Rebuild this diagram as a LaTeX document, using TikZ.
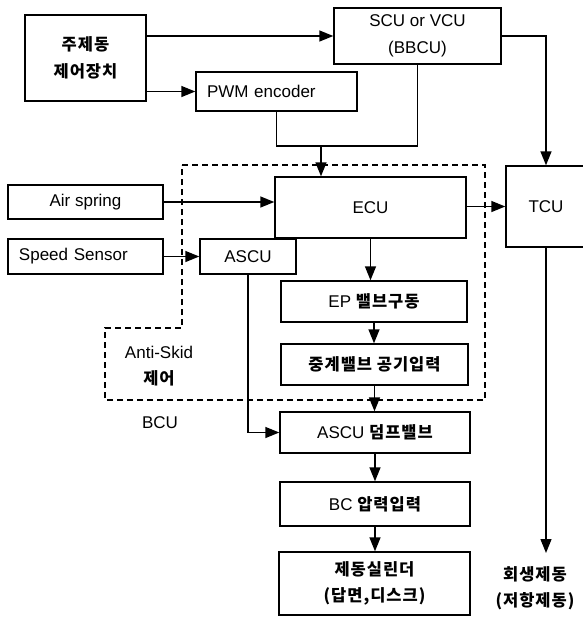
\documentclass[tikz,border=0pt]{standalone}
\usepackage{fontspec}
\setmainfont{Liberation Sans}
\newfontfamily\kr[LetterSpace=6]{Noto Sans CJK KR}
\newcommand{\hg}[1]{{\kr\bfseries\fontsize{16.5}{27}\selectfont #1}}
\usetikzlibrary{arrows.meta,calc}

\begin{document}
\begin{tikzpicture}[x=1pt,y=-1pt,
  box/.style={draw,line width=1.4pt,inner sep=0pt,align=center,font=\fontsize{17}{27}\selectfont},
  lbox/.style={box,align=left,inner xsep=11pt},
  lbl/.style={align=center,inner sep=0pt,font=\fontsize{17}{26}\selectfont},
  lin/.style={line width=1.4pt},
  arr/.style={lin,-{Triangle[length=14pt,width=11pt]}},
  area/.style={line width=1.4pt,dash pattern=on 6pt off 4pt}]
\useasboundingbox (0,0) rectangle (583,619);

\node[box,minimum width=121,minimum height=86] (main) at (85.5,58) {\hg{주제동}\\\hg{제어장치}};
\node[lbox,text width=139,minimum height=39] (pwm) at (276.5,91.5) {PWM encoder};
\node[box,minimum width=167,minimum height=56] (scu) at (417.5,36) {SCU or VCU\\(BBCU)};
\node[box,minimum width=155,minimum height=34] (air) at (85.5,202) {Air spring};
\node[lbox,text width=133,minimum height=35] (speed) at (85.5,256.5) {Speed Sensor};
\node[box,minimum width=96,minimum height=35] (ascu) at (248,256.5) {ASCU};
\node[box,minimum width=191,minimum height=61] (ecu) at (370.5,207.5) {ECU};
\node[box,minimum width=80,minimum height=81] (tcu) at (546,206.5) {TCU};
\node[box,minimum width=186,minimum height=41] (ep) at (374,301.5) {EP \hg{밸브구동}};
\node[box,minimum width=187,minimum height=41] (relay) at (374.5,364.5) {\hg{중계밸브 공기입력}};
\node[box,minimum width=190,minimum height=41] (dump) at (375,432.5) {ASCU \hg{덤프밸브}};
\node[box,minimum width=190,minimum height=44] (bc) at (375,504) {BC \hg{압력입력}};
\node[box,minimum width=191,minimum height=63,font=\fontsize{17}{26}\selectfont] (cyl) at (374.5,583.5) {\hg{제동실린더}\\\hg{(답면,디스크)}};
\node[lbl] (regen) at (535,588.5) {\hg{회생제동}\\\hg{(저항제동)}};
\node[lbl] (antiskid) at (159,366) {Anti-Skid\\\hg{제어}};
\node[lbl] (bcu) at (160,423) {BCU};
\coordinate (j) at (321,146);

\draw[area] (182,165) -- (485,165) -- (485,400) -- (105,400) -- (105,328) -- (182,328) -- cycle;

\draw[arr] (main.east |- scu.west) -- (scu.west);
\draw[arr] (main.east |- pwm.west) -- (pwm.west);
\draw[lin] (scu.south) |- (j);
\draw[lin] (pwm.south) |- (j);
\draw[arr] (j) -- (j |- ecu.north);
\draw[arr] (scu.east) -| (tcu.north);
\draw[arr] (air.east) -- (air.east -| ecu.west);
\draw[arr] (speed.east) -- (ascu.west);
\draw[arr] (ecu.east |- tcu.west) -- (tcu.west);
\draw[arr] (ecu.south) -- (ecu.south |- ep.north);
\draw[arr] (ep.south) -- (ep.south |- relay.north);
\draw[arr] (relay.south) -- (relay.south |- dump.north);
\draw[arr] (ascu.south) |- (dump.west);
\draw[arr] (dump.south) -- (dump.south |- bc.north);
\draw[arr] (bc.south) -- (bc.south |- cyl.north);
\draw[arr] (tcu.south) -- (tcu.south |- 0,553);
\end{tikzpicture}
\end{document}
